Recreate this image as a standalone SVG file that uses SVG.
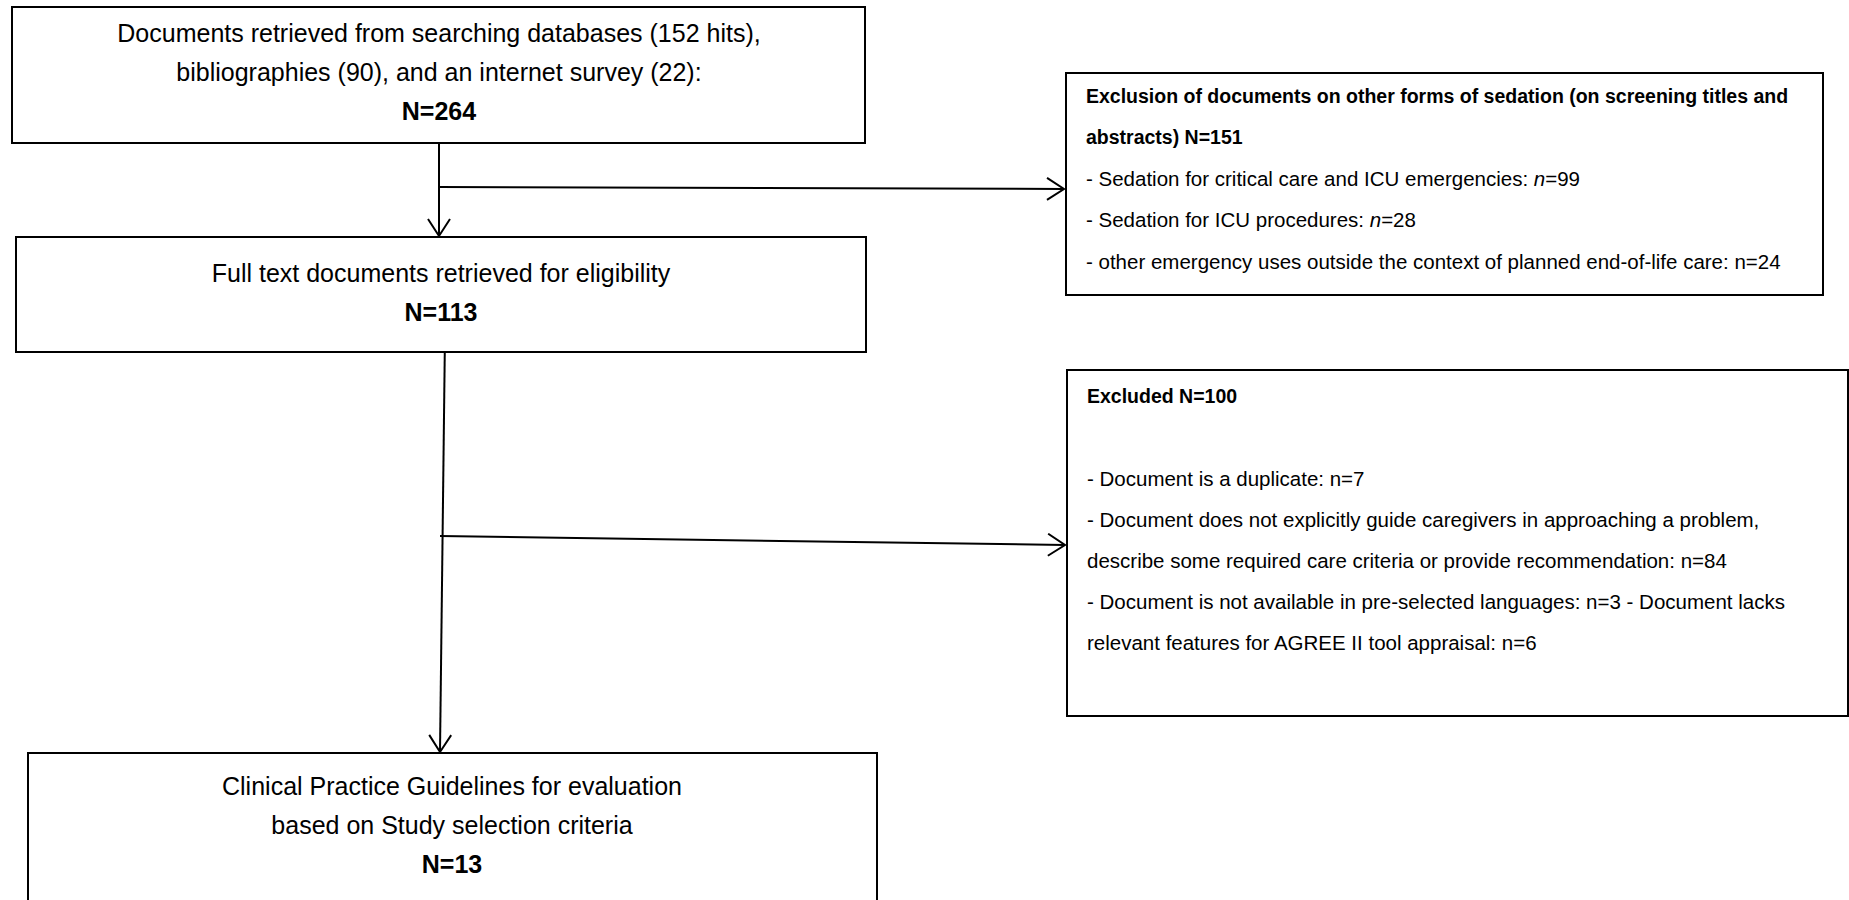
<svg xmlns="http://www.w3.org/2000/svg" width="1849" height="900" viewBox="0 0 1849 900">
<style>
.box{fill:#fff;stroke:#000;stroke-width:2}
.ln{fill:none;stroke:#000;stroke-width:2}
.c{font-family:"Liberation Sans",Arial,sans-serif;font-size:25px;fill:#000;text-anchor:middle}
.r{font-family:"Liberation Sans",Arial,sans-serif;font-size:20.5px;fill:#000}
.b{font-weight:bold}
.rb{font-size:19.5px;font-weight:bold}
</style>
<defs>
<marker id="ah" viewBox="0 0 20 24" refX="18" refY="12" markerWidth="20" markerHeight="24" markerUnits="userSpaceOnUse" orient="auto">
<path d="M1,1 L18,12 L1,23" fill="none" stroke="#000" stroke-width="2"/>
</marker>
</defs>
<rect width="1849" height="900" fill="#fff"/>
<g id="connectors">
<line class="ln" x1="439" y1="143" x2="439" y2="236" marker-end="url(#ah)"/>
<line class="ln" x1="439" y1="187" x2="1064" y2="189" marker-end="url(#ah)"/>
<line class="ln" x1="445" y1="333" x2="440" y2="752" marker-end="url(#ah)"/>
<line class="ln" x1="440" y1="536" x2="1065" y2="545" marker-end="url(#ah)"/>
</g>
<g id="node-identified">
<rect class="box" x="12" y="7" width="853" height="136"/>
<text class="c" x="439" y="42">Documents retrieved from searching databases (152 hits),</text>
<text class="c" x="439" y="81">bibliographies (90), and an internet survey (22):</text>
<text class="c b" x="439" y="120">N=264</text>
</g>
<g id="node-fulltext">
<rect class="box" x="16" y="237" width="850" height="115"/>
<text class="c" x="441" y="282">Full text documents retrieved for eligibility</text>
<text class="c b" x="441" y="321">N=113</text>
</g>
<g id="node-included">
<rect class="box" x="28" y="753" width="849" height="160"/>
<text class="c" x="452" y="795">Clinical Practice Guidelines for evaluation</text>
<text class="c" x="452" y="834">based on Study selection criteria</text>
<text class="c b" x="452" y="873">N=13</text>
</g>
<g id="node-exclusion1">
<rect class="box" x="1066" y="73" width="757" height="222"/>
<text class="r rb" x="1086" y="103">Exclusion of documents on other forms of sedation (on screening titles and</text>
<text class="r rb" x="1086" y="144">abstracts) N=151</text>
<text class="r" x="1086" y="186">- Sedation for critical care and ICU emergencies: <tspan font-style="italic">n</tspan>=99</text>
<text class="r" x="1086" y="227">- Sedation for ICU procedures: <tspan font-style="italic">n</tspan>=28</text>
<text class="r" x="1086" y="269">- other emergency uses outside the context of planned end-of-life care: n=24</text>
</g>
<g id="node-exclusion2">
<rect class="box" x="1067" y="370" width="781" height="346"/>
<text class="r rb" x="1087" y="403">Excluded N=100</text>
<text class="r" x="1087" y="486">- Document is a duplicate: n=7</text>
<text class="r" x="1087" y="527">- Document does not explicitly guide caregivers in approaching a problem,</text>
<text class="r" x="1087" y="568">describe some required care criteria or provide recommendation: n=84</text>
<text class="r" x="1087" y="609">- Document is not available in pre-selected languages: n=3 - Document lacks</text>
<text class="r" x="1087" y="650">relevant features for AGREE II tool appraisal: n=6</text>
</g>
</svg>
